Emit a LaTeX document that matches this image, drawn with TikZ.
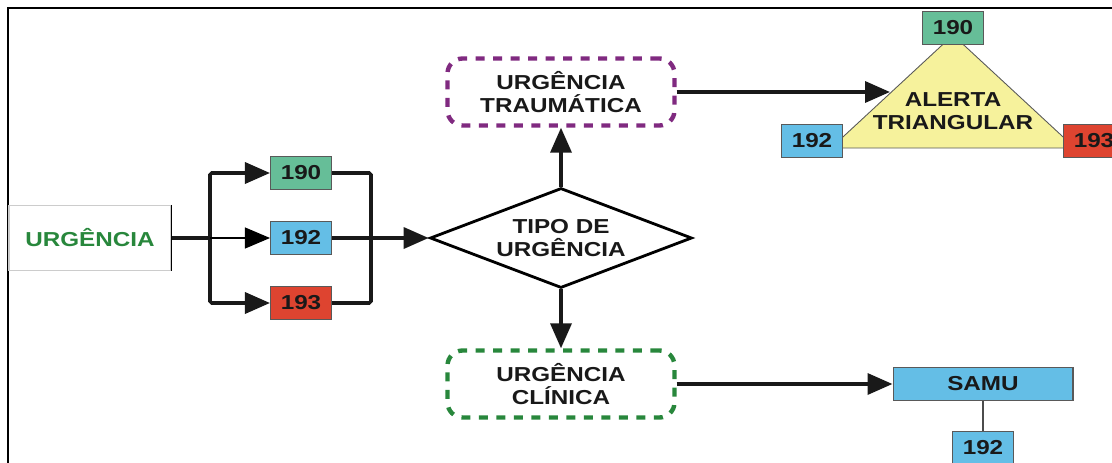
\documentclass[tikz,border=0pt]{standalone}
\usepackage{fontspec}
\setmainfont{Liberation Sans}[FakeStretch=1.2]
\usetikzlibrary{arrows.meta,shapes.geometric}

\definecolor{verdenum}{RGB}{102,190,152}
\definecolor{azulnum}{RGB}{100,190,230}
\definecolor{vermnum}{RGB}{222,68,48}
\definecolor{amarelo}{RGB}{246,242,156}
\definecolor{roxo}{RGB}{128,42,128}
\definecolor{verdeesc}{RGB}{40,135,60}

\begin{document}
\begin{tikzpicture}[x=0.02cm, y=-0.02cm,
        texto/.style={font=\bfseries\fontsize{11.5}{13}\selectfont, text=black!90, align=center},
        num/.style={texto, draw=gray!70!black, line width=0.6pt, minimum width=1.22cm, minimum height=0.66cm, inner sep=0pt},
        grossa/.style={line width=2pt, black!90, rounded corners=1pt},
        seta/.style={grossa, -{Triangle[length=5mm, width=4.2mm]}},
        tracejada/.style={texto, rounded corners=0.3cm, line width=2.5pt, dash pattern=on 0.18cm off 0.17cm, minimum width=4.54cm, minimum height=1.34cm}]
        \useasboundingbox (0,0) rectangle (1112,463);
        \clip (0,0) rectangle (1112,463);

        % Moldura
        \draw[line width=1.5pt] (8,463) -- (8,8) -- (1112,8);

        % Caixa urgencia
        \node[texto, text=verdeesc, draw=gray!40, line width=0.6pt, minimum width=3.24cm, minimum height=1.3cm] (urg) at (90,238) {URGÊNCIA};
        \draw[line width=0.8pt] (urg.north east) -- (urg.south east);

        % Numeros da esquerda
        \node[num, fill=verdenum] (n190a) at (301,173) {190};
        \node[num, fill=azulnum] (n192a) at (301,238) {192};
        \node[num, fill=vermnum] (n193a) at (301,303) {193};

        % Barramentos
        \coordinate (bl) at (210,238);
        \coordinate (br) at (371,238);
        \draw[grossa] (urg.east) -- (bl);
        \draw[seta] (bl) |- (n190a.west);
        \draw[seta] (bl) |- (n193a.west);
        \draw[line width=0.6pt, -{Triangle[length=5mm, width=4.2mm]}] (bl) -- (n192a.west);
        \draw[grossa] (n190a.east) -| (br);
        \draw[grossa] (n193a.east) -| (br);

        % Tipo de urgencia
        \node[texto, diamond, draw, line width=1.6pt, fill=white, minimum width=5.24cm, minimum height=2cm, aspect=2.6, inner sep=0pt] (tipo) at (561,238) {TIPO DE\\URGÊNCIA};
        \draw[seta] (n192a.east) -- (tipo.west);

        % Urgencia traumatica e clinica
        \node[tracejada, draw=roxo] (traum) at (561,92) {URGÊNCIA\\TRAUMÁTICA};
        \node[tracejada, draw=verdeesc] (clin) at (561,384) {URGÊNCIA\\CLÍNICA};
        \draw[seta] (tipo.north) -- (traum.south);
        \draw[seta] (tipo.south) -- (clin.north);

        % Alerta triangular
        \filldraw[fill=amarelo, draw=gray!70!black, line width=0.5pt] (831,148) -- (953,35) -- (1075,148) -- cycle;
        \node[texto] (alerta) at (953,111) {ALERTA\\TRIANGULAR};
        \node[num, fill=verdenum] (n190b) at (953,28) {190};
        \node[num, fill=azulnum] (n192b) at (812,141) {192};
        \node[num, fill=vermnum] (n193b) at (1094,141) {193};
        \coordinate (lado) at (890,92);
        \draw[seta] (traum.east) -- (lado);

        % SAMU
        \node[num, fill=azulnum, minimum width=3.6cm] (samu) at (983,384) {SAMU};
        \node[num, fill=azulnum] (n192c) at (983,448) {192};
        \draw[gray!60!black, line width=0.6pt] (samu.south) -- (n192c.north);
        \draw[seta] (clin.east) -- (samu.west);

    \end{tikzpicture}
\end{document}
